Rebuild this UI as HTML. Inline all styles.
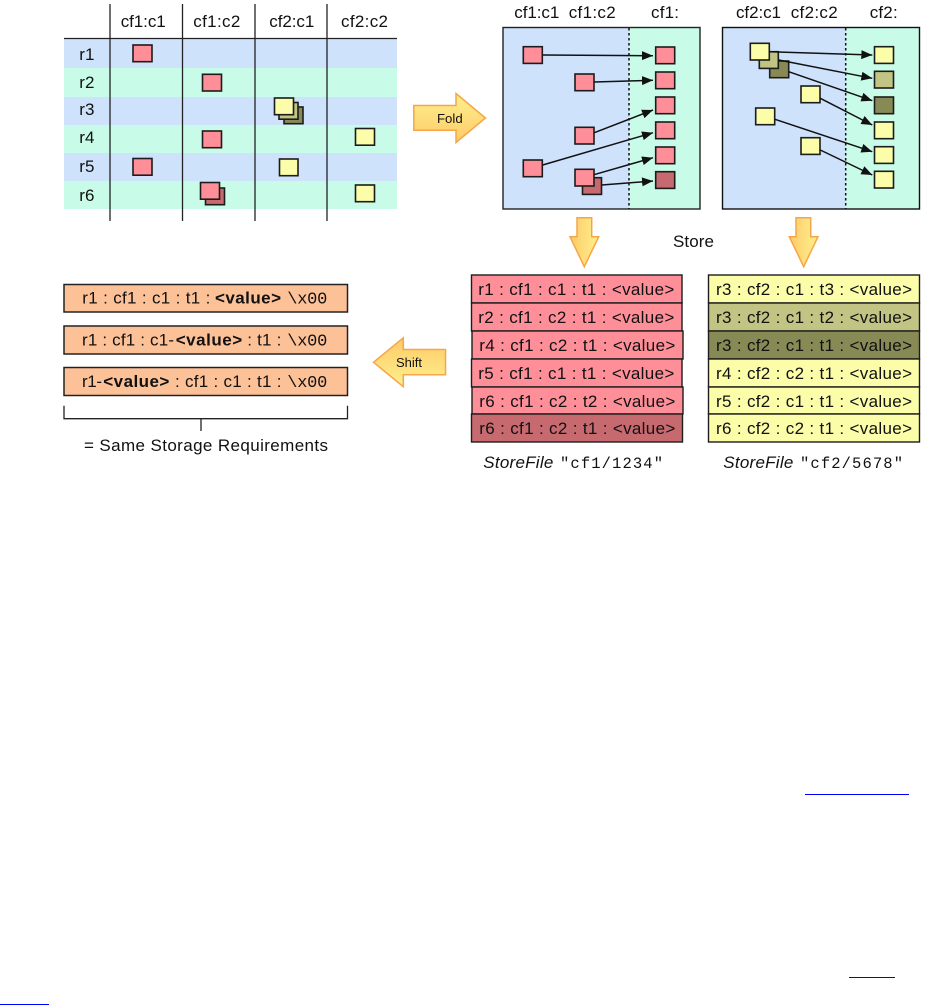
<!DOCTYPE html>
<html><head><meta charset="utf-8"><title>Diagram</title>
<style>
html,body{margin:0;padding:0;background:#fff;width:937px;height:1005px;overflow:hidden}
svg{display:block}
text{font-family:"Liberation Sans",sans-serif;font-size:17px;fill:#111}
.m{font-family:"Liberation Mono",monospace}
.b{font-weight:bold}
.s{stroke:#1c1c1c;stroke-width:1.6}
.p{fill:#fe8f99}.pd{fill:#c66a70}.y{fill:#fbfda8}.ym{fill:#c2c483}.yd{fill:#888a55}
.a{stroke:#111;stroke-width:1.5;fill:none;marker-end:url(#h)}
.ar{stroke:#f6a648;stroke-width:1.5}
.bl{filter:blur(.3px)}
</style></head><body>
<svg width="937" height="1005" viewBox="0 0 937 1005" xmlns="http://www.w3.org/2000/svg">
<defs>
<marker id="h" markerUnits="userSpaceOnUse" markerWidth="12" markerHeight="9" refX="11" refY="4.5" orient="auto"><path d="M0 0L11 4.5L0 9Z" fill="#111"/></marker>
<linearGradient id="gv" x1="0" y1="0" x2="0" y2="1"><stop offset="0" stop-color="#fff08e"/><stop offset="1" stop-color="#fdca68"/></linearGradient>
<linearGradient id="gu" x1="0" y1="0" x2="0" y2="1"><stop offset="0" stop-color="#fdca68"/><stop offset="1" stop-color="#fff08e"/></linearGradient>
<linearGradient id="gh" x1="0" y1="0" x2="1" y2="0"><stop offset="0" stop-color="#fdca68"/><stop offset="1" stop-color="#fff08e"/></linearGradient>
</defs>
<g class="bl">
<!-- table -->
<rect x="64" y="39" width="333" height="29" fill="#cfe2fb"/>
<rect x="64" y="68" width="333" height="29" fill="#c8fce8"/>
<rect x="64" y="97" width="333" height="28" fill="#cfe2fb"/>
<rect x="64" y="125" width="333" height="28" fill="#c8fce8"/>
<rect x="64" y="153" width="333" height="28" fill="#cfe2fb"/>
<rect x="64" y="181" width="333" height="28" fill="#c8fce8"/>
<path d="M64 38.500H397M110 4V221M182.500 4V221M255 4V221M327 4V221" stroke="#222" stroke-width="1.3" fill="none"/>
<text x="120.700" y="27" textLength="45">cf1:c1</text>
<text x="193.300" y="27" textLength="47">cf1:c2</text>
<text x="269.300" y="27" textLength="45">cf2:c1</text>
<text x="341" y="27" textLength="47">cf2:c2</text>
<text x="79.300" y="60">r1</text><text x="79.300" y="88">r2</text><text x="79.300" y="115">r3</text><text x="79.300" y="143">r4</text><text x="79.300" y="172">r5</text><text x="79.300" y="201">r6</text>

<g class="s">
<rect class="p" x="133" y="45" width="19" height="16.700"/>
<rect class="p" x="202.500" y="74.300" width="19" height="16.700"/>
<rect class="yd" x="284" y="107" width="19" height="16.700"/>
<rect class="ym" x="279" y="102.500" width="19" height="16.700"/>
<rect class="y" x="274.500" y="98" width="19" height="16.700"/>
<rect class="p" x="202.500" y="131" width="19" height="16.700"/>
<rect class="y" x="355.500" y="128.500" width="19" height="16.700"/>
<rect class="p" x="133" y="158.500" width="19" height="16.700"/>
<rect class="y" x="279.500" y="159" width="18.500" height="16.700"/>
<rect class="pd" x="205.500" y="188" width="19" height="16.700"/>
<rect class="p" x="200.500" y="182.500" width="19" height="16.700"/>
<rect class="y" x="355.500" y="185" width="19" height="16.700"/>
</g>

<!-- Fold -->
<path class="ar" fill="url(#gv)" d="M413.800 105.500H456V93.500L485.500 118L456 142.500V130.300H413.800Z"/>
<text x="437" y="123" style="font-size:13.200px">Fold</text>

<!-- panel 1 -->
<text x="514.300" y="18" textLength="45">cf1:c1</text>
<text x="568.700" y="18" textLength="47">cf1:c2</text>
<text x="651" y="18" textLength="28">cf1:</text>
<rect x="503" y="27.500" width="126" height="181.500" fill="#cfe2fb"/>
<rect x="629" y="27.500" width="71" height="181.500" fill="#c8fce8"/>
<rect x="503" y="27.500" width="197" height="181.500" fill="none" stroke="#222" stroke-width="1.4"/>
<path d="M629 28V209" stroke="#111" stroke-width="1.5" stroke-dasharray="2.500 2.500"/>

<path class="a" d="M542.700 55L653 55.700"/>
<path class="a" d="M594.300 82L653 80.300"/>
<path class="a" d="M594.300 132.700L653 110"/>
<path class="a" d="M542.700 165L653 132.700"/>
<path class="a" d="M594 174.700L653 157.700"/>
<path class="a" d="M601.700 185L653 181"/>
<g class="s">
<rect class="p" x="523.300" y="46.700" width="19" height="16.700"/>
<rect class="p" x="575" y="74" width="19" height="16.700"/>
<rect class="p" x="575" y="127.300" width="19" height="16.700"/>
<rect class="p" x="523.300" y="160" width="19" height="16.700"/>
<rect class="pd" x="582.500" y="177.700" width="19" height="16.700"/>
<rect class="p" x="575" y="169.300" width="19" height="16.700"/>
<rect class="p" x="655.700" y="47" width="19" height="16.700"/>
<rect class="p" x="655.700" y="72" width="19" height="16.700"/>
<rect class="p" x="655.700" y="97" width="19" height="16.700"/>
<rect class="p" x="655.700" y="122" width="19" height="16.700"/>
<rect class="p" x="655.700" y="147" width="19" height="16.700"/>
<rect class="pd" x="655.700" y="171.700" width="19" height="16.700"/>
</g>

<!-- panel 2 -->
<text x="736" y="18" textLength="45">cf2:c1</text>
<text x="790.700" y="18" textLength="47">cf2:c2</text>
<text x="869.700" y="18" textLength="28">cf2:</text>
<rect x="722.500" y="27.500" width="123" height="181.500" fill="#cfe2fb"/>
<rect x="845.500" y="27.500" width="74" height="181.500" fill="#c8fce8"/>
<rect x="722.500" y="27.500" width="197" height="181.500" fill="none" stroke="#111" stroke-width="1.4"/>
<path d="M845.700 28V209" stroke="#111" stroke-width="1.5" stroke-dasharray="2.500 2.500"/>

<g class="s">
<rect class="yd" x="769.700" y="61" width="19" height="16.700"/>
<rect class="ym" x="759.300" y="51.700" width="19" height="16.700"/>
<rect class="y" x="750.300" y="43.300" width="19" height="16.700"/>
<rect class="y" x="801" y="86" width="19" height="16.700"/>
<rect class="y" x="755.700" y="108" width="19" height="16.700"/>
<rect class="y" x="801" y="137.700" width="19" height="16.700"/>
<rect class="y" x="874.500" y="46.700" width="19" height="16.700"/>
<rect class="ym" x="874.500" y="71.300" width="19" height="16.700"/>
<rect class="yd" x="874.500" y="97" width="19" height="16.700"/>
<rect class="y" x="874.500" y="122" width="19" height="16.700"/>
<rect class="y" x="874.500" y="146.700" width="19" height="16.700"/>
<rect class="y" x="874.500" y="171.300" width="19" height="16.700"/>
</g>
<path class="a" d="M769.700 51.700L872.300 55"/>
<path class="a" d="M778.700 60L872.300 78.300"/>
<path class="a" d="M788.700 71.700L872.300 100.700"/>
<path class="a" d="M820.300 98.300L872.300 125"/>
<path class="a" d="M775 119.300L872.300 151.700"/>
<path class="a" d="M820.300 150L872.300 175"/>

<!-- down arrows -->
<path class="ar" fill="url(#gh)" d="M577 217.700H591.700V236.700H598.700L584.300 266.700L570 236.700H577Z"/>
<path class="ar" fill="url(#gh)" d="M796 217.700H810.700V236.700H818L803.700 266.700L789.300 236.700H796Z"/>
<text x="673" y="247" textLength="41">Store</text>

<!-- stacks -->
<g stroke="#1c1c1c" stroke-width="1.4">
<rect class="p" x="471.500" y="275" width="210.500" height="28"/>
<rect class="p" x="471.500" y="303" width="210.500" height="28"/>
<rect class="p" x="472" y="331" width="211" height="28"/>
<rect class="p" x="471.500" y="359" width="210.500" height="28"/>
<rect class="p" x="472" y="387" width="211" height="27"/>
<rect class="pd" x="471.500" y="414" width="211" height="28"/>
<rect class="y" x="708.500" y="275" width="211" height="28"/>
<rect class="ym" x="708.500" y="303" width="211" height="28"/>
<rect class="yd" x="708.500" y="331" width="211" height="28"/>
<rect class="y" x="708.500" y="359" width="211" height="28"/>
<rect class="y" x="708.500" y="387" width="211" height="27"/>
<rect class="y" x="708.500" y="414" width="211" height="28"/>
</g>
<text x="478.300" y="295" textLength="196">r1 : cf1 : c1 : t1 : &lt;value&gt;</text>
<text x="478.300" y="323" textLength="196">r2 : cf1 : c2 : t1 : &lt;value&gt;</text>
<text x="479.300" y="351" textLength="196">r4 : cf1 : c2 : t1 : &lt;value&gt;</text>
<text x="478.300" y="379" textLength="196">r5 : cf1 : c1 : t1 : &lt;value&gt;</text>
<text x="479.300" y="407" textLength="196">r6 : cf1 : c2 : t2 : &lt;value&gt;</text>
<text x="479.300" y="434" textLength="196">r6 : cf1 : c2 : t1 : &lt;value&gt;</text>
<text x="716" y="295" textLength="196">r3 : cf2 : c1 : t3 : &lt;value&gt;</text>
<text x="716" y="323" textLength="196">r3 : cf2 : c1 : t2 : &lt;value&gt;</text>
<text x="716" y="351" textLength="196">r3 : cf2 : c1 : t1 : &lt;value&gt;</text>
<text x="716" y="379" textLength="196">r4 : cf2 : c2 : t1 : &lt;value&gt;</text>
<text x="716" y="407" textLength="196">r5 : cf2 : c1 : t1 : &lt;value&gt;</text>
<text x="716" y="434" textLength="196">r6 : cf2 : c2 : t1 : &lt;value&gt;</text>

<text x="483.300" y="468" textLength="70" style="font-style:italic">StoreFile</text>
<text class="m" x="560" y="468" textLength="103" style="font-size:15.500px">"cf1/1234"</text>
<text x="723.300" y="468" textLength="70" style="font-style:italic">StoreFile</text>
<text class="m" x="800" y="468" textLength="103" style="font-size:15.500px">"cf2/5678"</text>

<!-- Shift -->
<path class="ar" fill="url(#gu)" d="M445.500 349.500H403.300V337.800L373.500 362.300L403.300 386.700V374.700H445.500Z"/>
<text x="396" y="367" style="font-size:13px">Shift</text>

<!-- left boxes -->
<g fill="#fdc197" stroke="#222" stroke-width="1.5">
<rect x="64" y="284.500" width="283.500" height="27.500"/>
<rect x="64" y="326" width="283.500" height="28"/>
<rect x="64" y="367.500" width="283.500" height="28"/>
</g>
<text x="82.300" y="303.500" textLength="128">r1 : cf1 : c1 : t1 :</text>
<text class="b" x="215" y="303.500" textLength="66">&lt;value&gt;</text>
<text class="m" x="287.300" y="303.500" textLength="40">\x00</text>
<text x="82" y="345.500" textLength="92">r1 : cf1 : c1-</text>
<text class="b" x="175.700" y="345.500" textLength="66.500">&lt;value&gt;</text>
<text x="247.300" y="345.500" textLength="34">: t1 :</text>
<text class="m" x="287.300" y="345.500" textLength="40">\x00</text>
<text x="82" y="387" textLength="20">r1-</text>
<text class="b" x="103.300" y="387" textLength="66">&lt;value&gt;</text>
<text x="175" y="387" textLength="106.500">: cf1 : c1 : t1 :</text>
<text class="m" x="287.300" y="387" textLength="40">\x00</text>
<path d="M64 405.700V418.700H347.500V405.700M201 418.700V431" fill="none" stroke="#222" stroke-width="1.3"/>
<text x="84" y="451" textLength="244">= Same Storage Requirements</text>
</g>
<!-- link underlines -->
<rect x="805" y="794" width="104" height="1" fill="#00f"/>
<rect x="849" y="977" width="46" height="1" fill="#00f"/>
<rect x="0" y="1004" width="49" height="1" fill="#00f"/>
</svg>
</body></html>
